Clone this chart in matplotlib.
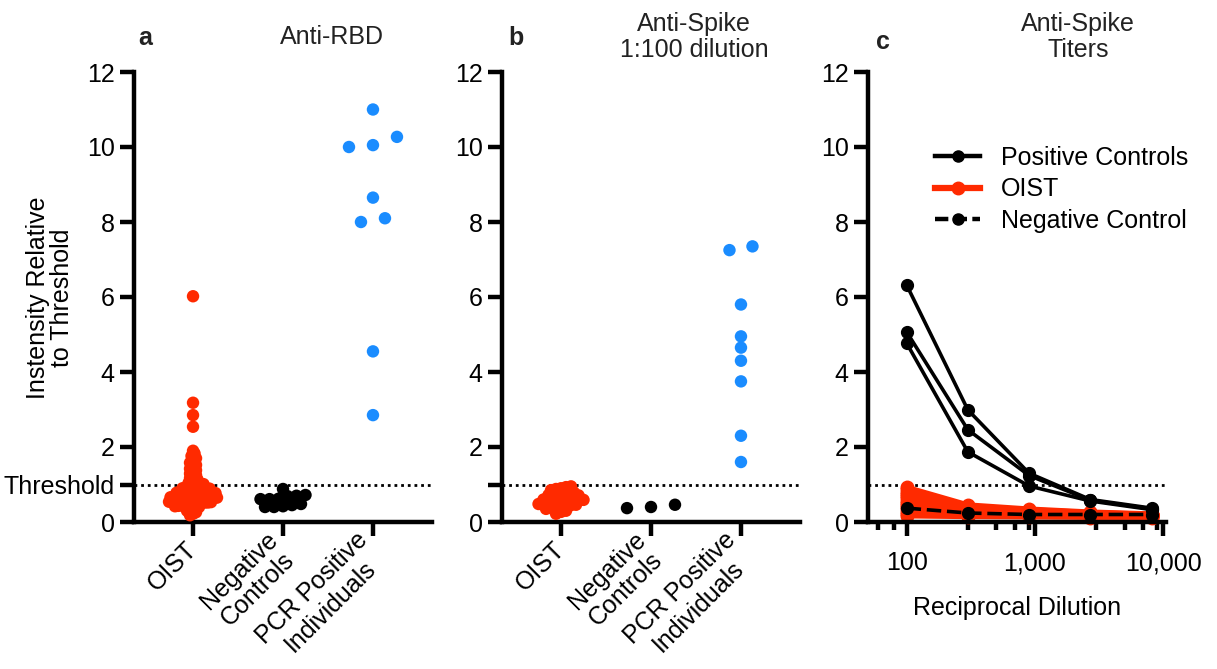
import numpy as np
import matplotlib
matplotlib.use('Agg')
import matplotlib.pyplot as plt
from matplotlib.lines import Line2D

plt.rcParams['font.family'] = ['Liberation Sans', 'DejaVu Sans']

# ---- data ----
categories = ['OIST', 'Negative\nControls', 'PCR Positive\nIndividuals']

rbd_oist = [6.02, 3.18, 2.85, 2.54,
            1.90, 1.83, 1.76, 1.70, 1.64, 1.58, 1.52, 1.47, 1.42, 1.38,
            1.33, 1.29, 1.25, 1.21, 1.17, 1.13, 1.10, 1.07, 1.04, 1.01,
            0.99, 0.97, 0.95, 0.94, 0.92, 0.91, 0.90, 0.89, 0.88, 0.87,
            0.86, 0.85, 0.84, 0.83, 0.82, 0.81, 0.80, 0.79, 0.78, 0.77,
            0.76, 0.75, 0.74,
            0.72, 0.72, 0.71, 0.71, 0.70, 0.70, 0.69, 0.68, 0.68, 0.67,
            0.66, 0.66, 0.65, 0.64, 0.64, 0.63, 0.62, 0.62, 0.61, 0.60,
            0.60, 0.59, 0.58, 0.58, 0.57, 0.56, 0.55, 0.55, 0.54, 0.53,
            0.52, 0.52, 0.51, 0.50,
            0.49, 0.48, 0.47, 0.46, 0.45, 0.44, 0.43, 0.42, 0.40, 0.38,
            0.36, 0.33, 0.30, 0.26, 0.22, 0.18]
rbd_neg = [0.48, 0.70, 0.69, 0.40, 0.61, 0.40, 0.61, 0.88, 0.42, 0.62, 0.72, 0.45]
rbd_pcr = [11.0, 10.05, 10.0, 10.27, 8.65, 8.0, 8.1, 4.55, 2.85]

spike_oist = [0.95, 0.93, 0.90, 0.88, 0.85,
              0.80, 0.78, 0.77, 0.75, 0.74, 0.72, 0.71, 0.70, 0.68, 0.67,
              0.66, 0.65, 0.62, 0.60, 0.59, 0.58, 0.57, 0.56, 0.55, 0.54,
              0.53, 0.52, 0.50, 0.48, 0.46, 0.45, 0.43, 0.42, 0.40, 0.38,
              0.35, 0.30, 0.27, 0.22]
spike_neg = [0.37, 0.46, 0.40]
spike_pcr = [7.35, 7.25, 5.8, 4.95, 4.65, 4.3, 3.75, 2.3, 1.6]

dilutions = [100, 300, 900, 2700, 8100]
pos_controls = [[6.32, 2.99, 1.30, 0.60, 0.37],
                [5.07, 2.46, 1.24, 0.58, 0.35],
                [4.77, 1.87, 0.96, 0.56, 0.33]]
neg_control = [0.37, 0.24, 0.20, 0.20, 0.20]
oist_titers = [[0.93, 0.46, 0.35, 0.27, 0.22],
               [0.87, 0.43, 0.33, 0.26, 0.21],
               [0.81, 0.40, 0.31, 0.24, 0.20],
               [0.75, 0.38, 0.29, 0.23, 0.20],
               [0.70, 0.36, 0.28, 0.22, 0.19],
               [0.63, 0.33, 0.27, 0.22, 0.19],
               [0.57, 0.31, 0.26, 0.21, 0.18],
               [0.51, 0.30, 0.25, 0.20, 0.18],
               [0.45, 0.28, 0.23, 0.20, 0.17],
               [0.40, 0.26, 0.22, 0.19, 0.17],
               [0.34, 0.23, 0.21, 0.18, 0.16],
               [0.28, 0.21, 0.19, 0.17, 0.15],
               [0.22, 0.18, 0.17, 0.15, 0.14],
               [0.16, 0.14, 0.13, 0.12, 0.12]]

RED = '#ff2a00'
BLUE = '#1a8cff'
FS = 18

W, H = 1217, 669
fig = plt.figure(figsize=(W / 100, H / 100), dpi=100)


def px_axes(left, right, top, bottom):
    return fig.add_axes([left / W, 1 - bottom / H, (right - left) / W, (bottom - top) / H])


def swarm_offsets(vals, win, spacing):
    # group close values into rows and centre each row on the category
    vals = np.asarray(vals, dtype=float)
    offs = np.zeros(len(vals))
    group = []

    def flush(g):
        n = len(g)
        for i, idx in enumerate(g):
            offs[idx] = (i - (n - 1) / 2) * spacing

    for idx in np.argsort(vals, kind='stable'):
        if group and vals[idx] - vals[group[0]] < win:
            group.append(idx)
        else:
            if group:
                flush(group)
            group = [idx]
    flush(group)
    return offs


def style(ax):
    for s in ['top', 'right']:
        ax.spines[s].set_visible(False)
    for s in ['left', 'bottom']:
        ax.spines[s].set_linewidth(3.2)
        ax.spines[s].set_capstyle('projecting')
    ax.tick_params(which='major', width=3.2, length=10, labelsize=FS, pad=4)
    ax.set_ylim(0, 12)
    ax.axhline(1, color='black', lw=2, ls=(0, (1, 1.4)), zorder=1)


ax_a = px_axes(134, 432, 72, 522)
ax_b = px_axes(502, 800, 72, 522)
ax_c = px_axes(868, 1166, 72, 522)

# category units: 90 px per category
xpx = 90.0
groups_a = [(rbd_oist, RED, 0.12, 3.0), (rbd_neg, 'black', 0.12, 9.0), (rbd_pcr, BLUE, 0.3, 24.0)]
groups_b = [(spike_oist, RED, 0.12, 5.0), (spike_neg, 'black', 0.3, 24.0), (spike_pcr, BLUE, 0.28, 23.0)]

for ax, groups, thr_label in [(ax_a, groups_a, 'Threshold'), (ax_b, groups_b, '')]:
    style(ax)
    for i, (vals, col, win, sp) in enumerate(groups):
        x = i + swarm_offsets(vals, win, sp) / xpx
        ax.scatter(x, vals, s=80, color=col, edgecolors='none', zorder=3, clip_on=False)
    ax.set_xlim(-0.656, 2.656)
    ax.set_xticks([0, 1, 2])
    ax.set_xticklabels(categories, rotation=45, ha='right', va='center',
                       rotation_mode='anchor', fontsize=FS, multialignment='center',
                       linespacing=1.1)
    ax.tick_params(axis='x', pad=7)
    yt = [0, 1, 2, 4, 6, 8, 10, 12]
    ax.set_yticks(yt)
    ax.set_yticklabels(['0', thr_label, '2', '4', '6', '8', '10', '12'])

# panel c: titers
style(ax_c)
ax_c.set_xscale('log')
for row in oist_titers:
    ax_c.plot(dilutions, row, color=RED, lw=3.5, marker='o', ms=9, zorder=2, clip_on=False)
ax_c.plot(dilutions, neg_control, color='black', lw=2.6, ls=(0, (4, 1.6)), marker='o', ms=8.5,
          zorder=4, clip_on=False)
for row in pos_controls:
    ax_c.plot(dilutions, row, color='black', lw=2.6, marker='o', ms=8.5, zorder=5, clip_on=False)
ax_c.set_xlim(50, 10500)
ax_c.set_xticks([100, 1000, 10000])
ax_c.set_xticklabels(['100', '1,000', '10,000'])
ax_c.set_xticks([60, 80, 300, 500, 700, 900, 3000, 5000, 7000, 9000], minor=True)
ax_c.xaxis.set_minor_formatter(matplotlib.ticker.NullFormatter())
ax_c.tick_params(axis='x', which='minor', width=3.2, length=6)
ax_c.tick_params(axis='x', which='major', pad=11)
ax_c.set_yticks([0, 2, 4, 6, 8, 10, 12])
ax_c.set_xlabel('Reciprocal Dilution', fontsize=FS, labelpad=15)

handles = [Line2D([], [], color='black', lw=3.2, marker='o', ms=8),
           Line2D([], [], color=RED, lw=4.5, marker='o', ms=9),
           Line2D([], [], color='black', lw=3.2, ls=(0, (3, 1.2)), marker='o', ms=8)]
ax_c.legend(handles, ['Positive Controls', 'OIST', 'Negative Control'],
            loc='upper left', bbox_to_anchor=(935 / W, 1 - 146 / H),
            bbox_transform=fig.transFigure, frameon=False, fontsize=FS,
            handlelength=1.8, handletextpad=0.85, labelspacing=0.3,
            borderpad=0, borderaxespad=0)

# titles and labels
tcol = '#222222'
fig.text(145 / W, 1 - 38 / H, 'a', fontsize=FS, fontweight='bold', ha='center', va='center', color=tcol)
fig.text(332 / W, 1 - 37 / H, 'Anti-RBD', fontsize=FS, ha='center', va='center', color=tcol)
fig.text(516 / W, 1 - 38 / H, 'b', fontsize=FS, fontweight='bold', ha='center', va='center', color=tcol)
fig.text(694 / W, 1 - 37 / H, 'Anti-Spike\n1:100 dilution', fontsize=FS, ha='center', va='center',
         color=tcol, linespacing=1.1)
fig.text(883 / W, 1 - 42 / H, 'c', fontsize=FS, fontweight='bold', ha='center', va='center', color=tcol)
fig.text(1078 / W, 1 - 37 / H, 'Anti-Spike\nTiters', fontsize=FS, ha='center', va='center',
         color=tcol, linespacing=1.1)
fig.text(50 / W, 1 - 298 / H, 'Instensity Relative\nto Threshold', fontsize=FS, rotation=90,
         ha='center', va='center', linespacing=1.05)

fig.savefig('out.png', dpi=100)
